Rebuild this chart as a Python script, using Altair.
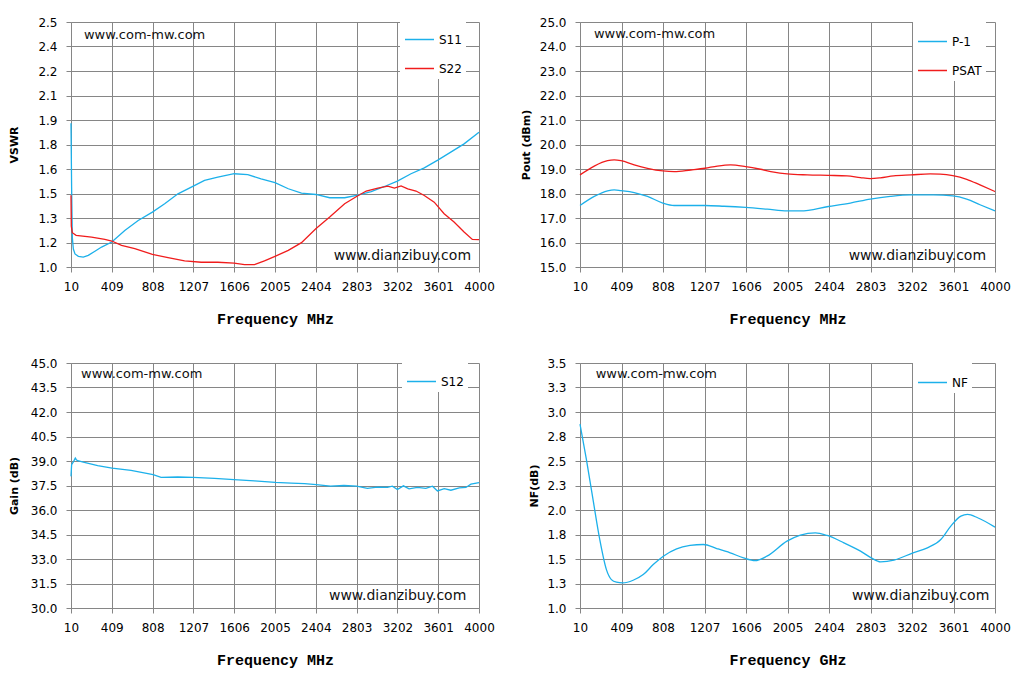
import altair as alt
import pandas as pd

# ---------------- data ----------------
freq_ticks = [10, 409, 808, 1207, 1606, 2005, 2404, 2803, 3202, 3601, 4000]
vswr_ticks = [1.0, 1.15, 1.3, 1.45, 1.6, 1.75, 1.9, 2.05, 2.2, 2.35, 2.5]
pout_ticks = [15.0, 16.0, 17.0, 18.0, 19.0, 20.0, 21.0, 22.0, 23.0, 24.0, 25.0]
gain_ticks = [30.0, 31.5, 33.0, 34.5, 36.0, 37.5, 39.0, 40.5, 42.0, 43.5, 45.0]
nf_ticks = [1.0, 1.25, 1.5, 1.75, 2.0, 2.25, 2.5, 2.75, 3.0, 3.25, 3.5]

s11_freq = [10, 16, 23, 33, 49, 82, 130, 179, 244, 309, 409, 536, 667, 806, 926, 1056,
            1206, 1316, 1446, 1606, 1739, 1869, 2005, 2135, 2264, 2404, 2540, 2686, 2803,
            2946, 3076, 3202, 3335, 3465, 3601, 3724, 3854, 4000]
s11_vswr = [1.88, 1.49, 1.18, 1.11, 1.08, 1.065, 1.061, 1.071, 1.096, 1.122, 1.153, 1.224,
            1.285, 1.336, 1.387, 1.448, 1.495, 1.53, 1.55, 1.571, 1.565, 1.54, 1.517, 1.479,
            1.452, 1.444, 1.424, 1.424, 1.438, 1.462, 1.493, 1.526, 1.571, 1.607, 1.656,
            1.703, 1.754, 1.825]

s22_freq = [10, 13, 23, 60, 211, 341, 409, 504, 634, 806, 959, 1121, 1284, 1446, 1606, 1707,
            1804, 1902, 2005, 2135, 2264, 2404, 2540, 2686, 2803, 2897, 3011, 3108, 3173,
            3238, 3303, 3384, 3465, 3562, 3659, 3756, 3854, 3935, 4000]
s22_vswr = [1.44, 1.25, 1.21, 1.194, 1.183, 1.169, 1.159, 1.132, 1.112, 1.077, 1.057, 1.037,
            1.029, 1.029, 1.024, 1.014, 1.014, 1.037, 1.065, 1.102, 1.149, 1.234, 1.306,
            1.387, 1.432, 1.465, 1.483, 1.495, 1.483, 1.497, 1.479, 1.465, 1.438, 1.397,
            1.326, 1.275, 1.214, 1.169, 1.167]

p1_freq = [10, 147, 275, 339, 403, 531, 659, 806, 915, 1075, 1212, 1394, 1602, 1810, 2002,
           2130, 2398, 2609, 2801, 2993, 3194, 3408, 3594, 3728, 3856, 4000]
p1_dbm = [17.51, 17.88, 18.11, 18.15, 18.12, 18.04, 17.88, 17.61, 17.51, 17.51, 17.51, 17.48,
          17.43, 17.36, 17.29, 17.29, 17.47, 17.61, 17.77, 17.88, 17.94, 17.94, 17.90, 17.77,
          17.54, 17.29]

psat_freq = [10, 147, 275, 339, 403, 531, 659, 806, 915, 1075, 1212, 1330, 1458, 1602, 1746,
             1874, 2002, 2194, 2398, 2577, 2705, 2801, 2897, 3025, 3194, 3376, 3472, 3594,
             3728, 3856, 4000]
psat_dbm = [18.76, 19.12, 19.34, 19.37, 19.34, 19.17, 19.03, 18.92, 18.89, 18.96, 19.03, 19.12,
            19.17, 19.10, 18.99, 18.87, 18.80, 18.76, 18.74, 18.72, 18.65, 18.61, 18.64, 18.72,
            18.76, 18.80, 18.79, 18.73, 18.58, 18.35, 18.08]

s12_freq = [10, 16, 36, 52, 62, 75, 140, 271, 411, 597, 813, 891, 1054, 1204, 1413, 1605,
            1804, 2007, 2163, 2294, 2408, 2548, 2679, 2803, 2908, 3006, 3104, 3153, 3202,
            3261, 3316, 3398, 3480, 3545, 3594, 3660, 3725, 3807, 3872, 3921, 4000]
s12_db = [38.06, 38.78, 38.98, 39.18, 39.08, 39.02, 38.92, 38.71, 38.57, 38.43, 38.16, 38.0,
          38.02, 38.0, 37.94, 37.86, 37.78, 37.69, 37.65, 37.61, 37.55, 37.46, 37.5, 37.46,
          37.33, 37.4, 37.38, 37.46, 37.25, 37.48, 37.29, 37.38, 37.33, 37.46, 37.17, 37.31,
          37.21, 37.35, 37.38, 37.58, 37.67]

nf_freq = [10, 71, 135, 200, 264, 312, 360, 422, 521, 618, 714, 811, 939, 1068, 1196, 1325,
           1454, 1582, 1695, 1807, 2000, 2129, 2273, 2386, 2547, 2707, 2810, 2900, 3029, 3212,
           3350, 3479, 3575, 3672, 3736, 3833, 4000]
nf_db = [2.876, 2.518, 2.108, 1.699, 1.392, 1.29, 1.263, 1.256, 1.283, 1.341, 1.443, 1.529,
         1.604, 1.638, 1.648, 1.607, 1.563, 1.512, 1.484, 1.529, 1.682, 1.744, 1.767, 1.74,
         1.665, 1.58, 1.512, 1.471, 1.488, 1.563, 1.614, 1.699, 1.836, 1.938, 1.955, 1.921,
         1.825]

# ---------------- styles ----------------
GRID = "#868686"
BLUE = "#1cb0ea"
RED = "#f01c1c"
TICK_FONT = "DejaVu Sans"
WM_TOP = "www.com-mw.com"
WM_BOTTOM = "www.dianzibuy.com"


def x_axis(title):
    return alt.Axis(values=freq_ticks, format="d", title=title, grid=True, gridColor=GRID,
                    gridWidth=1, domainColor=GRID, domainWidth=1, tickColor=GRID, tickSize=5,
                    tickWidth=1, labelFont=TICK_FONT, labelFontSize=12, labelColor="#000000",
                    labelPadding=9, labelFlush=False, labelOverlap=False, labelAngle=0,
                    titleFont="Liberation Mono", titleFontSize=15, titleFontWeight="bold",
                    titleColor="#000000", titlePadding=19)


def y_axis(ticks, title, tpad):
    return alt.Axis(values=ticks, labelExpr="format(datum.value + 0.00001, '.1f')",
                    title=title, grid=True, gridColor=GRID, gridWidth=1, domainColor=GRID,
                    domainWidth=1, tickColor=GRID, tickSize=5, tickWidth=1,
                    labelFont=TICK_FONT, labelFontSize=12, labelColor="#000000",
                    labelPadding=9, labelFlush=False, labelOverlap=False,
                    titleFont="DejaVu Sans", titleFontSize=11, titleFontWeight="bold",
                    titleColor="#000000", titlePadding=tpad)


def panel(series, ydom, yticks, ytitle, xtitle, width, tpad, legend_x, legend_y,
          wm_top, wm_bot, interp):
    rows = []
    for name, fs, vs, _c in series:
        for f, v in zip(fs, vs):
            rows.append({"freq": f, "val": v, "series": name})
    df = pd.DataFrame(rows)
    names = [s[0] for s in series]
    colors = [s[3] for s in series]

    x_enc = alt.X("freq:Q", scale=alt.Scale(domain=[10, 4000], nice=False, zero=False),
                  axis=x_axis(xtitle))
    y_enc = alt.Y("val:Q", scale=alt.Scale(domain=ydom, nice=False, zero=False),
                  axis=y_axis(yticks, ytitle, tpad))

    lines = alt.Chart(df).mark_line(strokeWidth=1.3, interpolate=interp).encode(
        x=x_enc,
        y=y_enc,
        color=alt.Color("series:N", scale=alt.Scale(domain=names, range=colors),
                        legend=alt.Legend(orient="none", legendX=legend_x, legendY=legend_y,
                                          title=None, fillColor="white", padding=4,
                                          symbolType="stroke", symbolSize=841,
                                          symbolStrokeWidth=1.5, labelFont=TICK_FONT,
                                          labelFontSize=12, labelColor="#000000",
                                          rowPadding=7, labelOffset=4,
                                          direction="vertical")),
    )
    top = alt.Chart(pd.DataFrame({"freq": [wm_top[0]], "val": [wm_top[1]], "t": [WM_TOP]})
                    ).mark_text(align="left", baseline="middle", font="DejaVu Sans",
                                fontSize=13, color="#111111").encode(
        x=x_enc, y=y_enc, text="t:N")
    bot = alt.Chart(pd.DataFrame({"freq": [wm_bot[0]], "val": [wm_bot[1]], "t": [WM_BOTTOM]})
                    ).mark_text(align="right", baseline="alphabetic", font="DejaVu Sans",
                                fontSize=14, color="#111111").encode(
        x=x_enc, y=y_enc, text="t:N")
    return alt.layer(lines, top, bot).properties(width=width, height=245)


tl = panel([("S11", s11_freq, s11_vswr, BLUE), ("S22", s22_freq, s22_vswr, RED)],
           [1.0, 2.5], vswr_ticks, "VSWR", "Frequency MHz", 408, 18, 329, -2,
           (137, 2.422), (3922, 1.045), "linear")
tr = panel([("P-1", p1_freq, p1_dbm, BLUE), ("PSAT", psat_freq, psat_dbm, RED)],
           [15.0, 25.0], pout_ticks, "Pout (dBm)", "Frequency MHz", 415, 8, 333, 0,
           (144, 24.51), (3914, 15.27), "monotone")
bl = panel([("S12", s12_freq, s12_db, BLUE)],
           [30.0, 45.0], gain_ticks, "Gain (dB)", "Frequency MHz", 408, 11, 331, -1,
           (108, 44.30), (3876, 30.48), "linear")
br = panel([("NF", nf_freq, nf_db, BLUE)],
           [1.0, 3.5], nf_ticks, "NF(dB)", "Frequency GHz", 415, 7, 333, 0,
           (161, 3.384), (3945, 1.08), "monotone")

chart = alt.concat(tl, tr, bl, br, columns=2, spacing={"row": 96, "column": 101},
                   bounds="flush").resolve_scale(
    color="independent", x="independent", y="independent"
).properties(
    padding={"left": 0, "top": 8, "right": 5, "bottom": 5},
    background="white",
).configure_view(stroke=None)

chart.save("out.html", embed_options={"renderer": "svg", "actions": False})
